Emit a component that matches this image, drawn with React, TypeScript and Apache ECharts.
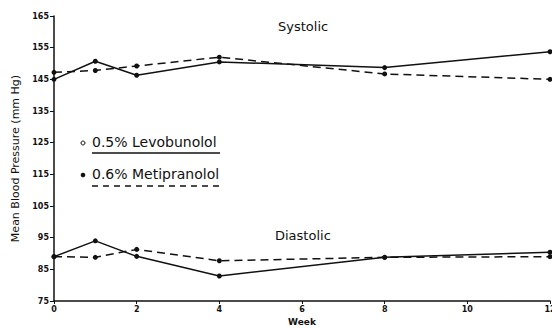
import React, { useEffect, useRef } from "react";
import * as echarts from "echarts";

const weeks = [0, 1, 2, 4, 8, 12];
const levoSystolic = [145, 150.7, 146.3, 150.5, 148.7, 153.7];
const metiSystolic = [147.2, 147.8, 149.2, 152, 146.7, 145];
const levoDiastolic = [89, 94, 89.1, 82.9, 88.8, 90.4];
const metiDiastolic = [89, 88.8, 91.3, 87.7, 88.8, 89];

const xTicks = { min: 0, max: 12, interval: 2 };
const yTicks = { min: 75, max: 165, interval: 10 };

const pairs = (xs: number[], ys: number[]) => xs.map((x, i) => [x, ys[i]]);

export default function App() {
  const ref = useRef<HTMLDivElement>(null);
  useEffect(() => {
    document.body.style.margin = "0";
    document.body.style.overflow = "hidden";
    const chart = echarts.init(ref.current!, undefined, { renderer: "svg", width: 552, height: 329 });
    const font = "DejaVu Sans";
    const solid = (name: string, data: number[]) => ({
      type: "line",
      name,
      data: pairs(weeks, data),
      symbol: "circle",
      symbolSize: 5,
      itemStyle: { color: "#111" },
      lineStyle: { color: "#111", width: 1.5, type: "solid" },
    });
    const dashed = (name: string, data: number[]) => ({
      type: "line",
      name,
      data: pairs(weeks, data),
      symbol: "circle",
      symbolSize: 5,
      itemStyle: { color: "#111" },
      lineStyle: { color: "#111", width: 1.5, type: [8, 5] },
    });
    chart.setOption({
      animation: false,
      backgroundColor: "#fff",
      textStyle: { fontFamily: font },
      grid: { left: 54, right: 2, top: 16, bottom: 28, containLabel: false, outerBoundsMode: "none" },
      xAxis: {
        type: "value",
        min: xTicks.min,
        max: xTicks.max,
        interval: xTicks.interval,
        name: "Week",
        nameLocation: "middle",
        nameGap: 16,
        nameTextStyle: { fontSize: 9, fontWeight: "bold", color: "#111", fontFamily: font },
        axisLine: { lineStyle: { color: "#111", width: 1.5 } },
        axisTick: { show: true, length: 3, lineStyle: { color: "#111" } },
        axisLabel: { fontSize: 8, fontWeight: "bold", color: "#111", margin: 4 },
        splitLine: { show: false },
      },
      yAxis: {
        type: "value",
        min: yTicks.min,
        max: yTicks.max,
        interval: yTicks.interval,
        name: "Mean Blood Pressure (mm Hg)",
        nameLocation: "middle",
        nameGap: 32,
        nameRotate: 90,
        nameTextStyle: { fontSize: 11, color: "#111", fontFamily: font },
        axisLine: { show: true, lineStyle: { color: "#111", width: 1.5 } },
        axisTick: { show: true, length: 4, lineStyle: { color: "#111" } },
        axisLabel: { fontSize: 8, fontWeight: "bold", color: "#111", margin: 5 },
        splitLine: { show: false },
      },
      series: [
        solid("0.5% Levobunolol Systolic", levoSystolic),
        solid("0.5% Levobunolol Diastolic", levoDiastolic),
        dashed("0.6% Metipranolol Systolic", metiSystolic),
        dashed("0.6% Metipranolol Diastolic", metiDiastolic),
      ],
      graphic: [
        { type: "text", left: 278, top: 20, style: { text: "Systolic", fontSize: 13, fill: "#111", fontFamily: font } },
        { type: "text", left: 275, top: 229, style: { text: "Diastolic", fontSize: 13, fill: "#111", fontFamily: font } },
        { type: "circle", shape: { cx: 83, cy: 143, r: 2 }, style: { fill: "#fff", stroke: "#111", lineWidth: 1 } },
        { type: "circle", shape: { cx: 83, cy: 175, r: 2.3 }, style: { fill: "#111" } },
        { type: "text", left: 92, top: 135, style: { text: "0.5% Levobunolol", fontSize: 14, fill: "#111", fontFamily: font } },
        { type: "text", left: 92, top: 167, style: { text: "0.6% Metipranolol", fontSize: 14, fill: "#111", fontFamily: font } },
        { type: "line", shape: { x1: 92, y1: 153, x2: 220, y2: 153 }, style: { stroke: "#111", lineWidth: 1.3 } },
        { type: "line", shape: { x1: 92, y1: 186, x2: 220, y2: 186 }, style: { stroke: "#111", lineWidth: 1.3, lineDash: [6, 5] } },
      ],
    });
    return () => chart.dispose();
  }, []);
  return (
    <div
      ref={ref}
      style={{ position: "fixed", left: 0, top: 0, width: 552, height: 329 }}
    />
  );
}
